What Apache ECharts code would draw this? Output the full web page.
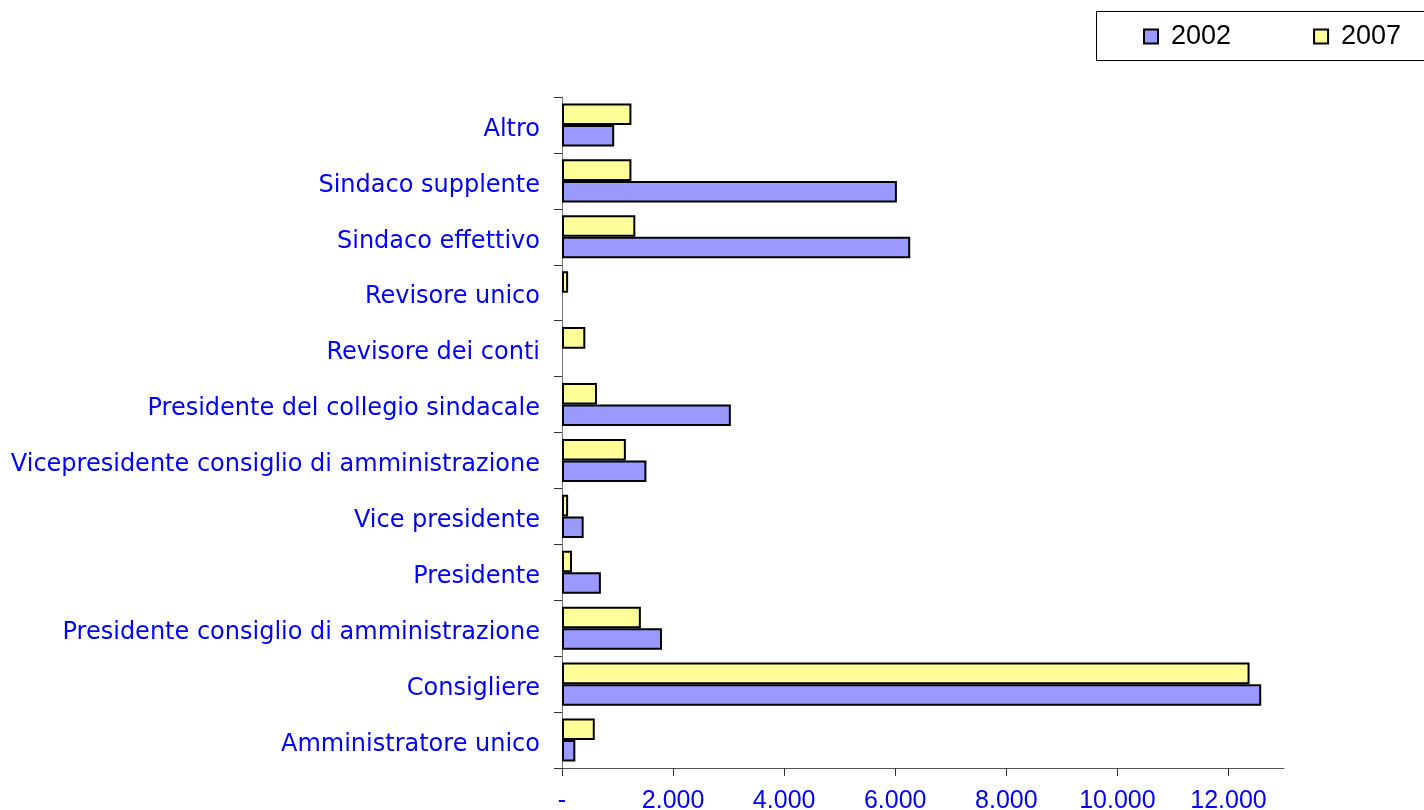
<!DOCTYPE html>
<html>
<head>
<meta charset="utf-8">
<script src="https://cdn.jsdelivr.net/npm/echarts@6/dist/echarts.min.js"></script>
<style>
  html, body { margin: 0; padding: 0; background: #fff; }
  #chart { width: 1424px; height: 810px; }
</style>
</head>
<body>
<div id="chart"></div>
<script>
const categories = [
  "Amministratore unico",
  "Consigliere",
  "Presidente consiglio di amministrazione",
  "Presidente",
  "Vice presidente",
  "Vicepresidente consiglio di amministrazione",
  "Presidente del collegio sindacale",
  "Revisore dei conti",
  "Revisore unico",
  "Sindaco effettivo",
  "Sindaco supplente",
  "Altro"
];
// null = no value in the source table
const values2002 = [240, 12590, 1800, 700, 390, 1520, 3040, null, null, 6270, 6030, 940];
const values2007 = [590, 12380, 1420, 180, 110, 1150, 630, 420, 110, 1320, 1250, 1250];
const xTicks = [0, 2000, 4000, 6000, 8000, 10000, 12000];

const chart = echarts.init(document.getElementById("chart"));
const font = "Liberation Sans";

chart.setOption({
  animation: false,
  backgroundColor: "#fff",
  textStyle: { fontFamily: font },
  graphic: [{
    type: "rect",
    left: 1096,
    top: 11,
    shape: { width: 340, height: 49 },
    style: { fill: "#fff", stroke: "#000", lineWidth: 1 },
    z: 0
  }],
  legend: {
    left: 1139,
    top: 19,
    orient: "horizontal",
    padding: [4, 4, 4, 4],
    itemGap: 82,
    itemWidth: 14,
    itemHeight: 14,
    icon: "rect",
    textStyle: { color: "#000", fontSize: 27, fontFamily: font, padding: [0, 0, 0, 8] },
    data: ["2002", "2007"]
  },
  grid: { left: 562, right: 140, top: 97, bottom: 42, outerBoundsMode: "none", containLabel: false },
  xAxis: {
    type: "value",
    min: 0,
    max: 13000,
    interval: 1000,
    splitLine: { show: false },
    axisLine: { show: true, lineStyle: { color: "#555", width: 1 } },
    axisTick: { show: true, length: 8, customValues: xTicks, lineStyle: { color: "#333" } },
    axisLabel: {
      customValues: xTicks,
      color: "#0000ff",
      fontSize: 25,
      margin: 21,
      formatter: v => v === 0 ? "-" : v.toLocaleString("de-DE")
    }
  },
  yAxis: {
    type: "category",
    data: categories,
    axisLine: { show: true, lineStyle: { color: "#777", width: 1 } },
    axisTick: { show: true, length: 8, lineStyle: { color: "#333" } },
    axisLabel: {
      margin: 22,
      formatter: v => "{c|" + v + "}",
      rich: {
        c: { color: "#0000ff", fontSize: 24, fontFamily: "DejaVu Sans", padding: [9, 0, 0, 0] }
      }
    }
  },
  series: [
    {
      name: "2007",
      type: "bar",
      data: values2007,
      barGap: "0%",
      barCategoryGap: "23%",
      itemStyle: { color: "#ffff99", borderColor: "#000", borderWidth: 2 }
    },
    {
      name: "2002",
      type: "bar",
      data: values2002,
      barGap: "0%",
      barCategoryGap: "23%",
      itemStyle: { color: "#9999ff", borderColor: "#000", borderWidth: 2 }
    }
  ]
});
</script>
</body>
</html>
